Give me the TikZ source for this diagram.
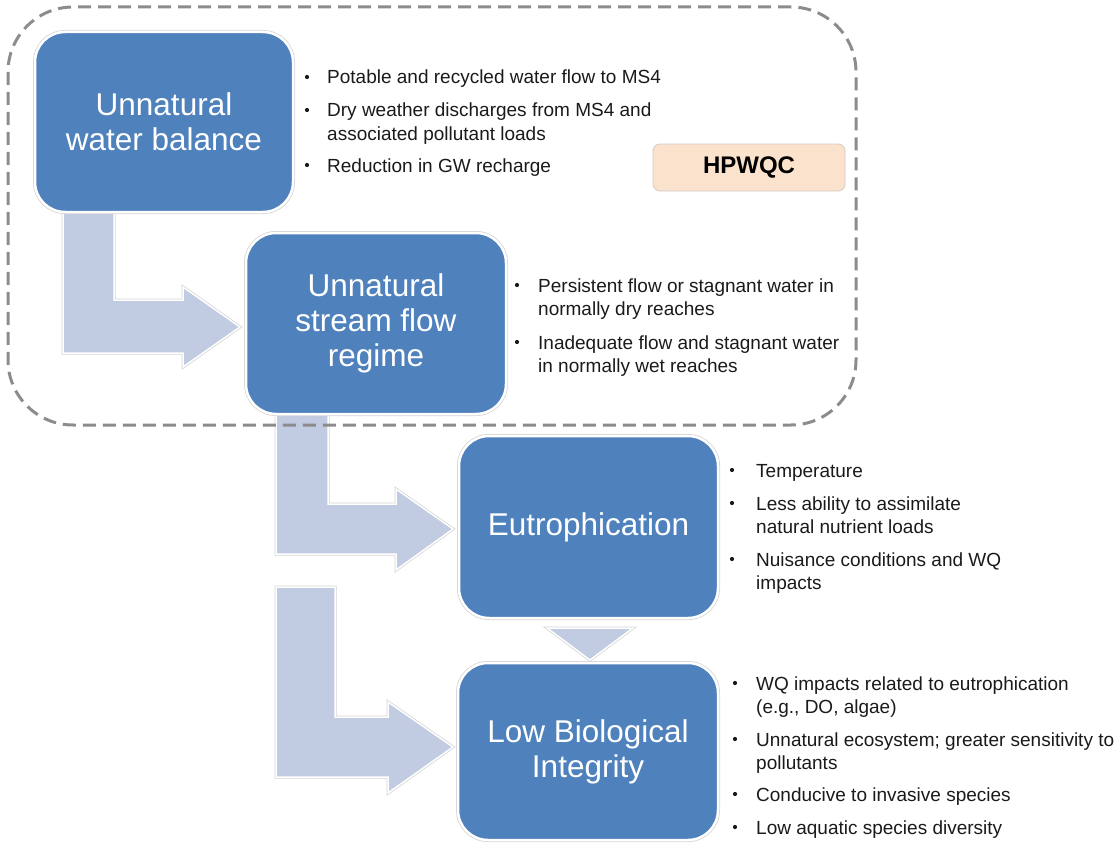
\documentclass[tikz,border=0pt]{standalone}
\usepackage{fontspec}
\setmainfont{Liberation Sans}
\definecolor{boxblue}{HTML}{4F81BD}
\definecolor{arrowfill}{HTML}{C1CBE1}
\definecolor{edgegray}{HTML}{D4D4D4}
\definecolor{dashgray}{HTML}{8C8C8C}
\definecolor{peach}{HTML}{FBE2CD}
\definecolor{peachedge}{HTML}{D2CBC4}
\definecolor{bodytext}{HTML}{1A1A1A}

% one-line bullet point: name, bullet x, text x, baseline, text
\newcommand\bulletitem[5]{%
  \node[dot] (#1-dot) at (#2,#4-7) {};
  \node[item] (#1) at (#3,#4) {#5};
}
% two-line bullet point: name, bullet x, text x, first baseline, line 1, line 2
\newcommand\bulletpair[6]{%
  \node[dot] (#1-dot) at (#2,#4-7) {};
  \node[item] (#1) at (#3,#4) {#5};
  \node[item] (#1-more) at (#3,#4+23) {#6};
}

\begin{document}
\begin{tikzpicture}[x=1pt,y=-1pt,
  stage/.style={rectangle, rounded corners=30pt, fill=boxblue, draw=white,
    line width=2.5pt, preaction={draw=edgegray, line width=4pt},
    text=white, align=center, inner sep=0pt,
    font=\fontsize{31.5}{35}\selectfont},
  blockarrow/.style={fill=arrowfill, draw=white, line width=1.5pt,
    preaction={draw=edgegray, line width=3pt}},
  item/.style={anchor=base west, inner sep=0pt, text=bodytext,
    font=\fontsize{19}{23}\selectfont},
  dot/.style={circle, fill=bodytext, inner sep=0pt, minimum size=4.2pt},
  tag/.style={rectangle, rounded corners=7pt, fill=peach, draw=peachedge,
    line width=0.8pt, font=\bfseries\fontsize{24}{28}\selectfont,
    minimum width=192pt, minimum height=47pt, inner sep=0pt},
  frame/.style={rectangle, rounded corners=65pt, draw=dashgray,
    line width=3pt, dash pattern=on 13pt off 7pt, inner sep=0pt}]

\useasboundingbox (0,0) rectangle (1120,843);

% bent block arrows between the stages
\draw[blockarrow] (63,212) -- (114,212) -- (114,300) -- (183,300) -- (183,287)
  -- (240,327) -- (183,367) -- (183,353) -- (63,353) -- cycle;
\draw[blockarrow] (276,414) -- (328,414) -- (328,504) -- (396,504) -- (396,489)
  -- (453,529) -- (396,570) -- (396,554) -- (276,554) -- cycle;
\draw[blockarrow] (276,587) -- (335,587) -- (335,717) -- (388,717) -- (388,702)
  -- (453,747) -- (388,793) -- (388,777) -- (276,777) -- cycle;
\draw[blockarrow] (547,628) -- (633,628) -- (590,660) -- cycle;

% stages
\node[stage, minimum width=258pt, minimum height=180pt] (wb) at (164,122)
  {Unnatural\\water balance};
\node[stage, minimum width=260pt, minimum height=181pt] (sf) at (376,323.5)
  {Unnatural\\stream flow\\regime};
\node[stage, minimum width=259pt, minimum height=182pt] (eu) at (588.5,527)
  {Eutrophication};
\node[stage, minimum width=260pt, minimum height=177pt] (lb) at (588,751.5)
  {Low Biological\\Integrity};

\node[tag] (hp) at (749,167.5) {HPWQC};

% bullet lists
\bulletitem{wb1}{307}{327}{84}{Potable and recycled water flow to MS4}
\bulletpair{wb2}{307}{327}{117}{Dry weather discharges from MS4 and}{associated pollutant loads}
\bulletitem{wb3}{307}{327}{172}{Reduction in GW recharge}

\bulletpair{sf1}{517}{538}{292}{Persistent flow or stagnant water in}{normally dry reaches}
\bulletpair{sf2}{517}{538}{349}{Inadequate flow and stagnant water}{in normally wet reaches}

\bulletitem{eu1}{732}{756}{477}{Temperature}
\bulletpair{eu2}{732}{756}{510}{Less ability to assimilate}{natural nutrient loads}
\bulletpair{eu3}{732}{756}{566}{Nuisance conditions and WQ}{impacts}

\bulletpair{lb1}{735}{756}{690}{WQ impacts related to eutrophication}{(e.g., DO, algae)}
\bulletpair{lb2}{735}{756}{746}{Unnatural ecosystem; greater sensitivity to}{pollutants}
\bulletitem{lb3}{735}{756}{801}{Conducive to invasive species}
\bulletitem{lb4}{735}{756}{834}{Low aquatic species diversity}

% dashed grouping frame
\node[frame, minimum width=848pt, minimum height=418pt] (grp) at (432,216) {};

\end{tikzpicture}
\end{document}
